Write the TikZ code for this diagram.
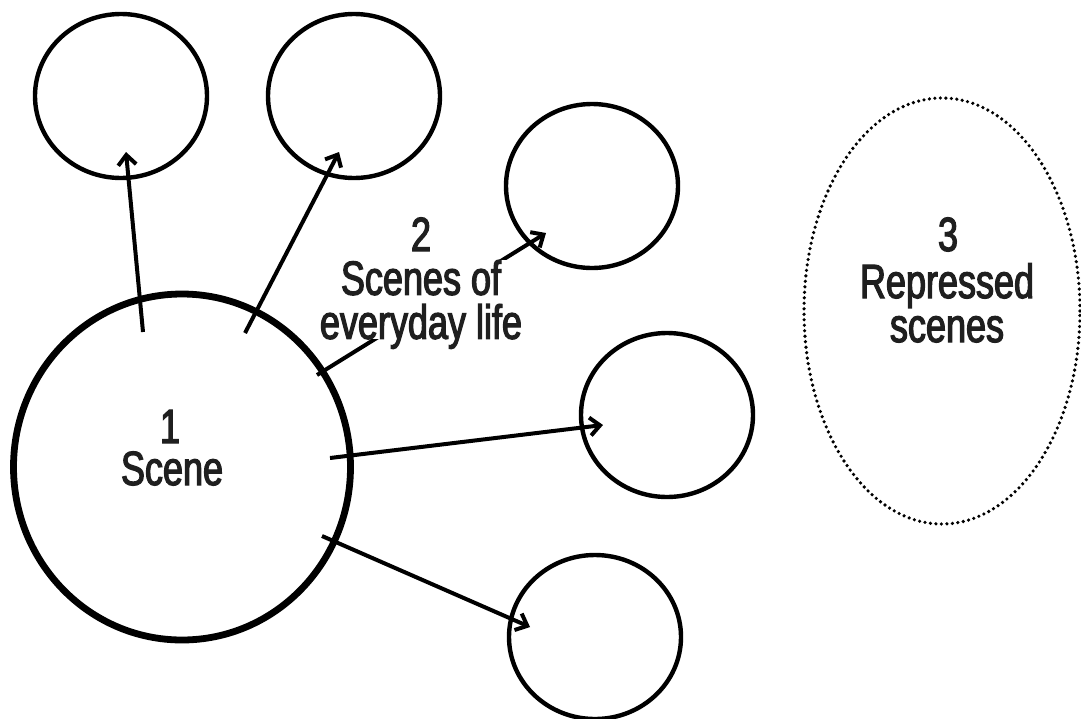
\documentclass[tikz,border=0pt]{standalone}
\usepackage{fontspec}
\setmainfont{Liberation Sans}[FakeStretch=0.75,FakeBold=2.5]
\usetikzlibrary{arrows.meta,shapes.geometric}
\begin{document}
\begin{tikzpicture}[x=1pt,y=-1pt,
  small/.style={draw, ellipse, line width=4.4pt, minimum width=172pt, minimum height=164pt, inner sep=0pt},
  big/.style={draw, ellipse, line width=6.8pt, minimum width=337pt, minimum height=346pt, inner sep=0pt},
  hiddenset/.style={draw, ellipse, line width=3.6pt, dash pattern=on 0pt off 5.5pt, line cap=round, minimum width=276pt, minimum height=426pt, inner sep=0pt},
  conn/.style={line width=4pt, -{Straight Barb[length=10pt,width=18pt]}},
  lbl/.style={font=\fontsize{48}{44}\selectfont, inner sep=0pt, text=black!88}]
\useasboundingbox (0,0) rectangle (1081,718);

% circles
\node[big] (scene) at (182,467) {};
\node[small] (c1) at (121,96) {};
\node[small] (c2) at (354,96) {};
\node[small] (c3) at (592,186) {};
\node[small] (c4) at (667,415) {};
\node[small] (c5) at (595,637) {};
\node[hiddenset] (rep) at (942,311) {};

% arrow end points
\coordinate (a1s) at (143,332);
\coordinate (a1e) at (126,152);
\coordinate (a2s) at (245,333);
\coordinate (a2e) at (339,152);
\coordinate (a3s) at (317,375);
\coordinate (a3e) at (546,233);
\coordinate (a4s) at (330,458);
\coordinate (a4e) at (603,425);
\coordinate (a5s) at (322,536);
\coordinate (a5e) at (530,627);

\draw[conn] (a1s) -- (a1e);
\draw[conn] (a2s) -- (a2e);
\draw[conn] (a3s) -- (a3e);
\draw[conn] (a4s) -- (a4e);
\draw[conn] (a5s) -- (a5e);

% labels
\node[lbl, anchor=base] (n1) at (170,443) {1};
\node[lbl, anchor=base] (t1) at (172,485) {Scene};
\node[lbl, anchor=base] (n2) at (421,251) {2};
\node[lbl, align=center, fill=white, text depth=0pt, anchor=south] (t2) at (421,339) {Scenes of\\everyday life};
\node[lbl, anchor=base] (n3) at (948,251) {3};
\node[lbl, anchor=base] (t3a) at (947,298) {Repressed};
\node[lbl, anchor=base] (t3b) at (947,342) {scenes};
\end{tikzpicture}
\end{document}
